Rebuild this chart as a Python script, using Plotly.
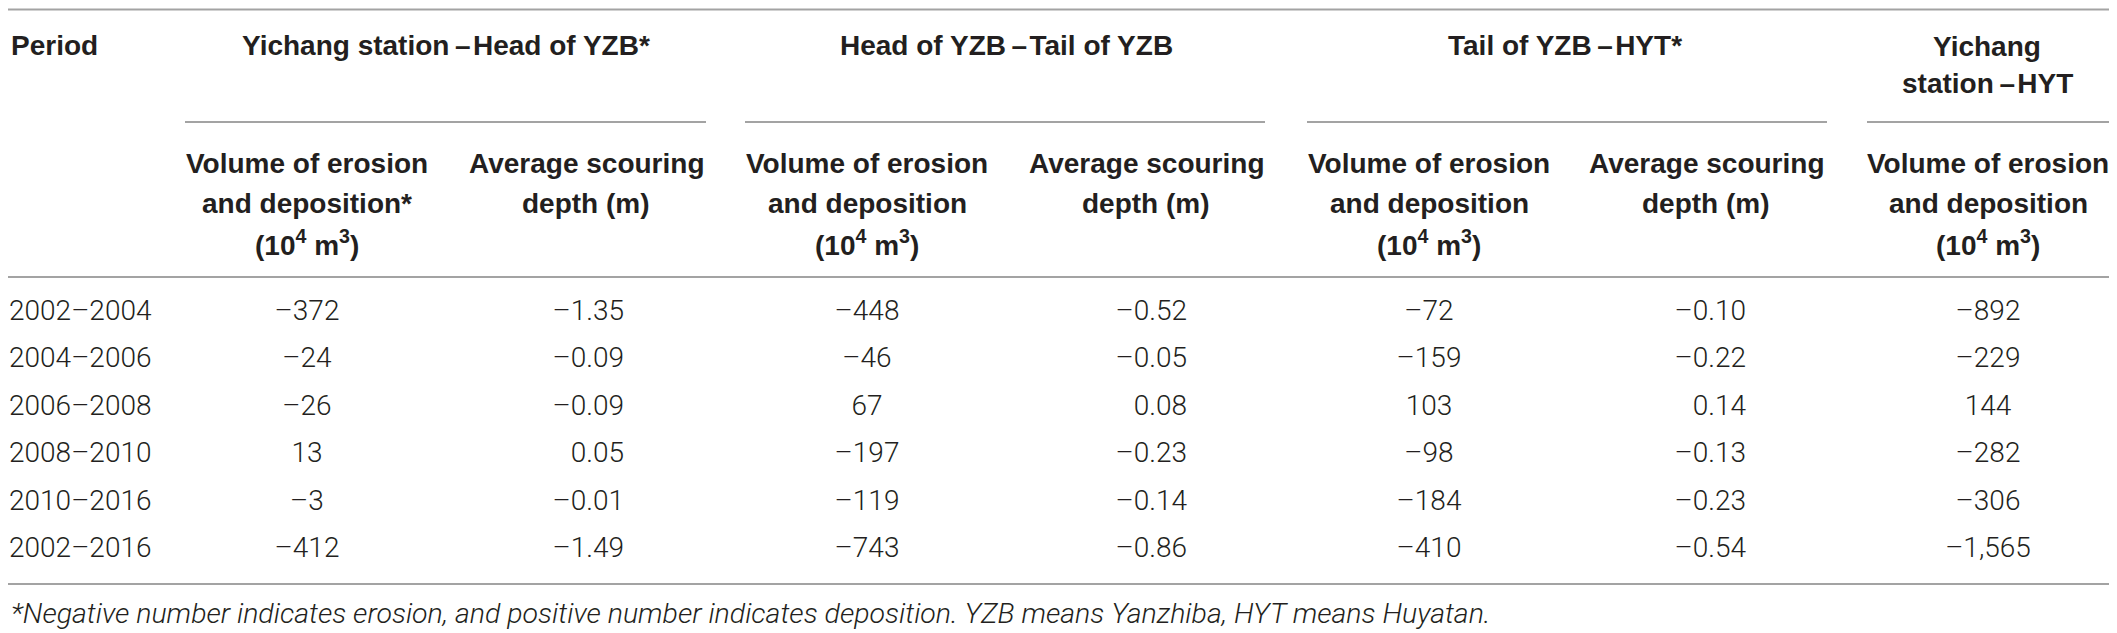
"""Erosion and deposition table, Yichang station to Huyatan, 2002-2016."""
import plotly.graph_objects as go

# Table data
periods = ["2002–2004", "2004–2006", "2006–2008", "2008–2010", "2010–2016", "2002–2016"]
vol_yichang_head = [-372, -24, -26, 13, -3, -412]
depth_yichang_head = [-1.35, -0.09, -0.09, 0.05, -0.01, -1.49]
vol_head_tail = [-448, -46, 67, -197, -119, -743]
depth_head_tail = [-0.52, -0.05, 0.08, -0.23, -0.14, -0.86]
vol_tail_hyt = [-72, -159, 103, -98, -184, -410]
depth_tail_hyt = [-0.10, -0.22, 0.14, -0.13, -0.23, -0.54]
vol_yichang_hyt = [-892, -229, 144, -282, -306, -1565]

group_headers = ["Yichang station\u2009–\u200aHead of YZB*",
                 "Head of YZB\u2009–\u200aTail of YZB",
                 "Tail of YZB\u2009–\u200aHYT*"]
last_header = ["Yichang", "station\u2009–\u200aHYT"]
vol_header = ["Volume of erosion", "and deposition", "(10<sup>4</sup> m<sup>3</sup>)"]
vol_header_star = ["Volume of erosion", "and deposition*", "(10<sup>4</sup> m<sup>3</sup>)"]
depth_header = ["Average scouring", "depth (m)"]
footnote = ("*Negative number indicates erosion, and positive number indicates "
            "deposition. YZB means Yanzhiba, HYT means Huyatan.")

W, H = 2117, 633
PAD = 8  # page body margin, the figure sits 8px in from the window edge
TEXT = "#231f20"
LINE = "#a3a3a3"
HEAD_FONT = "Liberation Sans"
BODY_FONT = "Roboto"


def fmt_int(v):
    s = f"{abs(v):,}"
    return ("–" if v < 0 else "") + s


def fmt_dec(v):
    s = f"{abs(v):.2f}"
    return ("–" if v < 0 else "") + s


# layout positions (window pixel coordinates)
left_x = 9
row_y = [313 + i * 47.4 for i in range(len(periods))]
group_x = [446, 1006, 1565]
last_x = 1987
vol_x = [307, 867, 1429, 1988]
depth_right = [624, 1187, 1746]
depth_x = [586, 1146, 1706]

fig = go.Figure()

# Period column
fig.add_trace(go.Scatter(
    x=[left_x] * len(periods), y=row_y, text=periods, mode="text",
    textposition="middle right",
    textfont=dict(family=BODY_FONT, size=28, color=TEXT, weight=300),
    hoverinfo="skip", showlegend=False, cliponaxis=False))

vol_cols = [vol_yichang_head, vol_head_tail, vol_tail_hyt, vol_yichang_hyt]
depth_cols = [depth_yichang_head, depth_head_tail, depth_tail_hyt]

for xc, col in zip(vol_x, vol_cols):
    fig.add_trace(go.Scatter(
        x=[xc] * len(col), y=row_y, text=[fmt_int(v) for v in col], mode="text",
        textposition="middle center",
        textfont=dict(family=BODY_FONT, size=28, color=TEXT, weight=300),
        hoverinfo="skip", showlegend=False, cliponaxis=False))

for xr, col in zip(depth_right, depth_cols):
    fig.add_trace(go.Scatter(
        x=[xr] * len(col), y=row_y, text=[fmt_dec(v) for v in col], mode="text",
        textposition="middle left",
        textfont=dict(family=BODY_FONT, size=28, color=TEXT, weight=300),
        hoverinfo="skip", showlegend=False, cliponaxis=False))

annotations = []


def head(text, x, y, anchor="center"):
    annotations.append(dict(
        text=text, x=x, y=y, xref="x", yref="y", showarrow=False,
        xanchor=anchor, yanchor="middle",
        font=dict(family=HEAD_FONT, size=28, color=TEXT, weight="bold")))


head("Period", left_x, 45, "left")
for gx, g in zip(group_x, group_headers):
    head(g, gx, 45)
head(last_header[0], last_x, 46)
head(last_header[1], last_x, 83)

header_rows = [163, 203, 243]
for i, xc in enumerate(vol_x):
    lines = vol_header_star if i == 0 else vol_header
    for ly, t in zip(header_rows, lines):
        head(t, xc, ly)
for xc in depth_x:
    for ly, t in zip(header_rows, depth_header):
        head(t, xc, ly)

annotations.append(dict(
    text=footnote, x=left_x, y=613, xref="x", yref="y", showarrow=False,
    xanchor="left", yanchor="middle",
    font=dict(family=BODY_FONT, size=28.5, color=TEXT, weight=300, style="italic")))

# rules
shapes = []
for ly in [9.5, 277, 584]:
    shapes.append(dict(type="line", x0=PAD, x1=W, y0=ly, y1=ly, xref="x", yref="y",
                       line=dict(color=LINE, width=2)))
for x0, x1 in [(185, 706), (745, 1265), (1307, 1827), (1867, W)]:
    shapes.append(dict(type="line", x0=x0, x1=x1, y0=122, y1=122, xref="x", yref="y",
                       line=dict(color=LINE, width=2)))

fig.update_layout(
    width=W - PAD, height=H - PAD,
    margin=dict(l=0, r=0, t=0, b=0),
    paper_bgcolor="white", plot_bgcolor="white",
    xaxis=dict(range=[PAD, W], visible=False, fixedrange=True),
    yaxis=dict(range=[H, PAD], visible=False, fixedrange=True),
    annotations=annotations, shapes=shapes,
)

fig.write_html("out.html", config={"displayModeBar": False})
